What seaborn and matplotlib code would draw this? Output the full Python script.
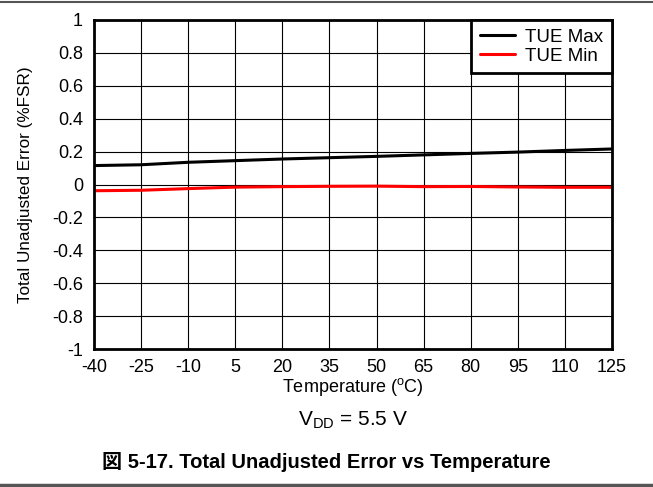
import numpy as np
import pandas as pd
import matplotlib
matplotlib.use('Agg')
import matplotlib.pyplot as plt
import seaborn as sns

# Data
temps   = [-40, -25, -10, 5, 20, 35, 50, 65, 80, 95, 110, 125]
tue_max = [0.115, 0.12, 0.135, 0.145, 0.155, 0.163, 0.171, 0.18, 0.189, 0.197, 0.207, 0.216]
tue_min = [-0.038, -0.035, -0.025, -0.016, -0.013, -0.011, -0.010, -0.013, -0.012, -0.015, -0.017, -0.017]
x_ticks = [-40, -25, -10, 5, 20, 35, 50, 65, 80, 95, 110, 125]
y_ticks = [-1, -0.8, -0.6, -0.4, -0.2, 0, 0.2, 0.4, 0.6, 0.8, 1]

df = pd.DataFrame({
    'Temperature': temps * 2,
    'TUE': tue_max + tue_min,
    'Series': ['TUE Max'] * len(temps) + ['TUE Min'] * len(temps),
})

sns.set_style('white')
plt.rcParams['font.family'] = ['Liberation Sans', 'Noto Sans CJK JP', 'DejaVu Sans']
plt.rcParams['text.color'] = 'black'
plt.rcParams['axes.labelcolor'] = 'black'
plt.rcParams['xtick.color'] = 'black'
plt.rcParams['ytick.color'] = 'black'

W, H = 653, 487
fig = plt.figure(figsize=(W / 100, H / 100), dpi=100)
ax = fig.add_axes([94 / W, 1 - 349 / H, (612 - 94) / W, (349 - 20) / H])

sns.lineplot(data=df, x='Temperature', y='TUE', hue='Series',
             palette={'TUE Max': 'black', 'TUE Min': 'red'},
             linewidth=2.2, ax=ax)

ax.set_xlim(-40, 125)
ax.set_ylim(-1, 1)
ax.set_xticks(x_ticks)
ax.set_yticks(y_ticks)
ax.set_xticklabels([str(t) for t in x_ticks])
ax.set_yticklabels([f'{v:g}' for v in y_ticks])
ax.tick_params(axis='x', labelsize=13, length=0, pad=7)
ax.tick_params(axis='y', labelsize=13, length=0, pad=8)
ax.grid(True, color='black', linewidth=0.8)
for s in ax.spines.values():
    s.set_color('black')
    s.set_linewidth(2)

ax.set_xlabel('Temperature ($\\mathregular{^{o}}$C)', fontsize=13, labelpad=0)
ax.set_ylabel('Total Unadjusted Error (%FSR)', fontsize=12.3)
ax.yaxis.set_label_coords((33 - 94) / (612 - 94), 0.5)

leg = ax.legend(loc='upper right', fontsize=13.5, frameon=True, fancybox=False,
                borderaxespad=0, borderpad=0.45, handlelength=1.9,
                handletextpad=0.55, labelspacing=0.1, framealpha=1)
leg.get_frame().set_edgecolor('black')
leg.get_frame().set_linewidth(2)
for line in leg.get_lines():
    line.set_linewidth(2.2)

fig.text(353 / W, 1 - 420 / H, '$\\mathregular{V_{DD}}$ = 5.5 V', ha='center', va='center', fontsize=15)
fig.text(0.5, 1 - 462 / H, '図 5-17. Total Unadjusted Error vs Temperature',
         ha='center', va='center', fontsize=14.5, fontweight='bold')

fig.add_artist(plt.Line2D([0, 1], [1 - 2 / H, 1 - 2 / H], color='#555555', linewidth=1.5))
fig.add_artist(plt.Line2D([0, 1], [1 - 485 / H, 1 - 485 / H], color='#555555', linewidth=2.5))

fig.savefig('out.png', dpi=100)
